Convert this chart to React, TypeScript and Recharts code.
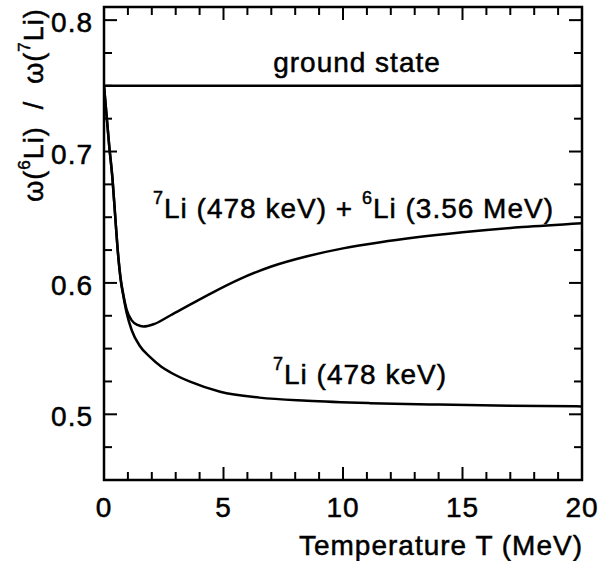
import React from 'react';
import { LineChart, Line, XAxis, YAxis, ReferenceArea } from 'recharts';

// temperature T (MeV) and ratio w(6Li)/w(7Li)
const lowerT = [0, 0.22, 0.36, 0.46, 0.56, 0.7, 0.81, 0.95, 1.16, 1.5, 1.93, 2.4, 2.77, 3.6, 4.86, 6.5, 8.5, 11.15, 14, 17, 20];
const lowerRatio = [0.75, 0.704, 0.678, 0.653, 0.628, 0.602, 0.59, 0.577, 0.564, 0.552, 0.5435, 0.5362, 0.532, 0.5248, 0.5172, 0.5127, 0.5103, 0.5085, 0.5074, 0.5066, 0.506];

const upperT = [0, 0.22, 0.36, 0.46, 0.56, 0.7, 0.81, 0.95, 1.16, 1.4, 1.65, 2.07, 2.77, 3.6, 4.5, 5.7, 7, 8.5, 10, 11.57, 13, 15, 17.5, 20];
const upperRatio = [0.75, 0.704, 0.678, 0.653, 0.628, 0.603, 0.591, 0.5795, 0.5715, 0.568, 0.5668, 0.5685, 0.5752, 0.5835, 0.5923, 0.6031, 0.6125, 0.6203, 0.6263, 0.631, 0.6345, 0.6385, 0.6425, 0.6455];

const groundT = [0, 20];
const groundRatio = [0.75, 0.75];

const xTicks = [0, 1, 2, 3, 4, 5, 6, 7, 8, 9, 10, 11, 12, 13, 14, 15, 16, 17, 18, 19, 20];
const xLabelTicks = [0, 5, 10, 15, 20];
const yTicks = [0.475, 0.5, 0.525, 0.55, 0.575, 0.6, 0.625, 0.65, 0.675, 0.7, 0.725, 0.75, 0.775, 0.8];
const yLabelTicks = [0.5, 0.6, 0.7, 0.8];

const toPoints = (ts: number[], vs: number[]) => ts.map((t, i) => ({ t, r: vs[i] }));

const lowerData = toPoints(lowerT, lowerRatio);
const upperData = toPoints(upperT, upperRatio);
const groundData = toPoints(groundT, groundRatio);

const FONT = '"Liberation Sans", Arial, Helvetica, sans-serif';
const PLOT_LEFT = 104;
const PLOT_RIGHT = 582;
const PLOT_TOP = 7;
const PLOT_BOTTOM = 480;

// thin stroke on the glyphs to get the heavier look of the scanned figure
const textStyle: React.CSSProperties = {
  fontFamily: FONT,
  fontSize: 28,
  letterSpacing: 1,
  fill: '#000',
  stroke: '#000',
  strokeWidth: 0.5,
  whiteSpace: 'pre',
};

const XTick = (props: any) => {
  const { x, payload } = props;
  const major = xLabelTicks.includes(payload.value);
  const len = major ? 13 : 8;
  return (
    <g>
      <line x1={x} x2={x} y1={PLOT_BOTTOM} y2={PLOT_BOTTOM - len} stroke="#000" strokeWidth={2} />
      <line x1={x} x2={x} y1={PLOT_TOP} y2={PLOT_TOP + len} stroke="#000" strokeWidth={2} />
      {major && (
        <text x={x} y={517} textAnchor="middle" style={textStyle}>
          {payload.value}
        </text>
      )}
    </g>
  );
};

const YTick = (props: any) => {
  const { y, payload } = props;
  const major = yLabelTicks.some(v => Math.abs(v - payload.value) < 1e-6);
  const len = major ? 13 : 8;
  return (
    <g>
      <line x1={PLOT_LEFT} x2={PLOT_LEFT + len} y1={y} y2={y} stroke="#000" strokeWidth={2} />
      <line x1={PLOT_RIGHT} x2={PLOT_RIGHT - len} y1={y} y2={y} stroke="#000" strokeWidth={2} />
      {major && (
        <text x={93} y={y + 12} textAnchor="end" style={textStyle}>
          {payload.value.toFixed(1)}
        </text>
      )}
    </g>
  );
};

export default function App() {
  return (
    <div style={{ position: 'absolute', left: 0, top: 0, width: 599, height: 561, background: '#fff' }}>
      <LineChart
        width={599}
        height={561}
        margin={{ top: PLOT_TOP, right: 599 - PLOT_RIGHT, bottom: 51, left: PLOT_LEFT - 60 }}
      >
        <XAxis
          dataKey="t"
          type="number"
          domain={[0, 20]}
          ticks={xTicks}
          interval={0}
          allowDataOverflow
          height={30}
          axisLine={false}
          tickLine={false}
          tick={XTick}
        />
        <YAxis
          type="number"
          domain={[0.45, 0.81]}
          ticks={yTicks}
          interval={0}
          allowDataOverflow
          width={60}
          axisLine={false}
          tickLine={false}
          tick={YTick}
        />
        <ReferenceArea x1={0} x2={20} y1={0.45} y2={0.81} fill="none" stroke="#000" strokeWidth={2.5} fillOpacity={0} />
        <Line data={groundData} dataKey="r" type="linear" dot={false} stroke="#000" strokeWidth={2.5} isAnimationActive={false} />
        <Line data={upperData} dataKey="r" type="monotone" dot={false} stroke="#000" strokeWidth={2.5} isAnimationActive={false} />
        <Line data={lowerData} dataKey="r" type="monotone" dot={false} stroke="#000" strokeWidth={2.5} isAnimationActive={false} />

        <g>
          <text x={357} y={72} textAnchor="middle" style={textStyle}>ground state</text>
          <text x={153} y={218} style={textStyle}>
            <tspan fontSize={18} dy={-14}>7</tspan>
            <tspan dy={14}>Li (478 keV) + </tspan>
            <tspan fontSize={18} dy={-14}>6</tspan>
            <tspan dy={14}>Li (3.56 MeV)</tspan>
          </text>
          <text x={273} y={384} style={textStyle}>
            <tspan fontSize={18} dy={-14}>7</tspan>
            <tspan dy={14}>Li (478 keV)</tspan>
          </text>
          <text x={583} y={555} textAnchor="end" style={textStyle}>Temperature T (MeV)</text>
          <text
            x={43}
            y={105}
            textAnchor="middle"
            transform="rotate(-90, 43, 105)"
            style={{ ...textStyle, fontSize: 27 }}
          >
            <tspan>ω(</tspan>
            <tspan fontSize={17} dy={-13}>6</tspan>
            <tspan dy={13}>Li)  /  ω(</tspan>
            <tspan fontSize={17} dy={-13}>7</tspan>
            <tspan dy={13}>Li)</tspan>
          </text>
        </g>
      </LineChart>
    </div>
  );
}
